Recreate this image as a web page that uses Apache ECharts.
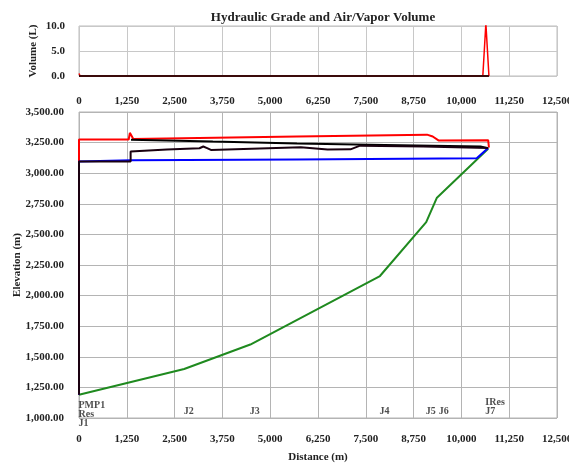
<!DOCTYPE html>
<html>
<head>
<meta charset="utf-8">
<script src="https://cdn.jsdelivr.net/npm/echarts@6/dist/echarts.min.js"></script>
<style>html,body{margin:0;padding:0;background:#fff}#c{width:569px;height:466px}</style>
</head>
<body>
<div id="c"></div>
<script>
// ---- data ----
const distTickStep = 1250, distMin = 0, distMax = 12500;
const volTickStep = 5, volMin = 0, volMax = 10;
const elevTickStep = 250, elevMin = 1000, elevMax = 3500;

// Air/Vapor volume (L)
const volRedDist = [0, 30, 10560, 10640, 10720];
const volRedVal  = [0.5, 0, 0, 10.5, 0];
const volBlackDist = [0, 10720];
const volBlackVal  = [0, 0];

// Max HGL (red)
const maxHglDist = [0, 0, 1300, 1330, 1420, 5700, 9100, 9250, 9400, 10700, 10720];
const maxHglElev = [1190, 3275, 3275, 3330, 3280, 3300, 3315, 3300, 3268, 3270, 3210];
// Min HGL (blue)
const minHglDist = [0, 0, 1350, 5700, 10400, 10700];
const minHglElev = [1190, 3095, 3105, 3112, 3122, 3205];
// HGL (black, upper)
const hglUpperDist = [1360, 3500, 5700, 8000, 10500, 10700];
const hglUpperElev = [3274, 3258, 3242, 3230, 3218, 3205];
// HGL (black, lower)
const hglLowerDist = [0, 0, 1350, 1350, 2300, 3150, 3250, 3350, 3450, 5800, 6500, 7100, 7350, 9000, 10700];
const hglLowerElev = [1190, 3095, 3095, 3177, 3193, 3204, 3218, 3205, 3190, 3212, 3193, 3195, 3225, 3218, 3205];
// Ground elevation (green)
const groundDist = [0, 2750, 4480, 7870, 9080, 9360, 10700];
const groundElev = [1190, 1400, 1600, 2160, 2600, 2800, 3200];
// Node labels
const nodeNames = ['PMP1\nRes\nJ1', 'J2', 'J3', 'J4', 'J5', 'J6', 'IRes\nJ7'];
const nodeDist  = [0, 2750, 4480, 7870, 9080, 9420, 10640];

// ---- helpers ----
function fmtNum(v, dec) {
  const s = Number(v).toFixed(dec);
  const parts = s.split('.');
  const ip = parts[0].replace(/\B(?=(\d{3})+(?!\d))/g, ',');
  return parts.length > 1 ? ip + '.' + parts[1] : ip;
}
function zip(a, b) { return a.map((x, i) => [x, b[i]]); }

const FONT = 'Liberation Serif';
const txt = { fontFamily: FONT, fontWeight: 'bold', fontSize: 11, color: '#222' };
const NODE_LABEL_ELEV = 1012;

const chart = echarts.init(document.getElementById('c'), null, { renderer: 'canvas' });

const xBase = (gi, margin, extra) => Object.assign({
  type: 'value', gridIndex: gi, min: distMin, max: distMax, interval: distTickStep,
  axisLine: { show: false }, axisTick: { show: false },
  axisLabel: Object.assign({}, txt, { margin: margin, formatter: v => fmtNum(v, 0) }),
  splitLine: { show: true, lineStyle: { color: gi === 0 ? '#c8c8c8' : '#b4b4b4', width: 1 } }
}, extra || {});

chart.setOption({
  animation: false,
  backgroundColor: '#fff',
  title: {
    text: 'Hydraulic Grade and Air/Vapor Volume',
    left: 318, top: 6, textAlign: 'center',
    textStyle: { fontFamily: FONT, fontWeight: 'bold', fontSize: 13, color: '#222' }
  },
  grid: [
    { left: 79, right: 12, top: 26, height: 50, show: true, borderColor: '#bdbdbd', borderWidth: 1,
      containLabel: false, outerBoundsMode: 'none' },
    { left: 79, right: 12, top: 112, height: 306, show: true, borderColor: '#b4b4b4', borderWidth: 1,
      containLabel: false, outerBoundsMode: 'none' }
  ],
  xAxis: [
    xBase(0, 20),
    xBase(1, 16, {
      name: 'Distance (m)', nameLocation: 'middle', nameGap: 34, nameMoveOverlap: false,
      nameTextStyle: Object.assign({}, txt)
    })
  ],
  yAxis: [
    {
      type: 'value', gridIndex: 0, min: volMin, max: volMax, interval: volTickStep,
      axisLine: { show: false }, axisTick: { show: false },
      axisLabel: Object.assign({}, txt, { margin: 14, formatter: v => fmtNum(v, 1) }),
      splitLine: { show: true, lineStyle: { color: '#c8c8c8' } },
      name: 'Volume (L)', nameLocation: 'middle', nameGap: 40, nameMoveOverlap: false,
      nameTextStyle: Object.assign({}, txt)
    },
    {
      type: 'value', gridIndex: 1, min: elevMin, max: elevMax, interval: elevTickStep,
      axisLine: { show: false }, axisTick: { show: false },
      axisLabel: Object.assign({}, txt, { margin: 15, formatter: v => fmtNum(v, 2) }),
      splitLine: { show: true, lineStyle: { color: '#b4b4b4' } },
      name: 'Elevation (m)', nameLocation: 'middle', nameGap: 56, nameMoveOverlap: false,
      nameTextStyle: Object.assign({}, txt)
    }
  ],
  series: [
    { type: 'line', xAxisIndex: 0, yAxisIndex: 0, data: zip(volRedDist, volRedVal), showSymbol: false, symbol: 'none',
      lineStyle: { color: '#ff0000', width: 1.5 }, z: 2 },
    { type: 'line', xAxisIndex: 0, yAxisIndex: 0, data: zip(volBlackDist, volBlackVal), showSymbol: false, symbol: 'none',
      lineStyle: { color: '#3a0a0a', width: 2 }, z: 3 },
    { type: 'line', xAxisIndex: 1, yAxisIndex: 1, data: zip(groundDist, groundElev), showSymbol: false, symbol: 'none',
      lineStyle: { color: '#1f8a1f', width: 2 }, z: 2 },
    { type: 'line', xAxisIndex: 1, yAxisIndex: 1, data: zip(maxHglDist, maxHglElev), showSymbol: false, symbol: 'none',
      lineStyle: { color: '#ff0000', width: 2 }, z: 3 },
    { type: 'line', xAxisIndex: 1, yAxisIndex: 1, data: zip(minHglDist, minHglElev), showSymbol: false, symbol: 'none',
      lineStyle: { color: '#0000ff', width: 2 }, z: 4 },
    { type: 'line', xAxisIndex: 1, yAxisIndex: 1, data: zip(hglUpperDist, hglUpperElev), showSymbol: false, symbol: 'none',
      lineStyle: { color: '#000000', width: 2 }, z: 5 },
    { type: 'line', xAxisIndex: 1, yAxisIndex: 1, data: zip(hglLowerDist, hglLowerElev), showSymbol: false, symbol: 'none',
      lineStyle: { color: '#1a0010', width: 2 }, z: 5 },
    { type: 'scatter', xAxisIndex: 1, yAxisIndex: 1, symbolSize: 1, clip: false, silent: true,
      itemStyle: { color: 'rgba(0,0,0,0)' },
      data: nodeNames.map((n, i) => ({
        value: [nodeDist[i], NODE_LABEL_ELEV], name: n,
        label: i === 0 ? { offset: [0, 12] } : undefined
      })),
      label: {
        show: true, position: [0, 0], align: 'left', verticalAlign: 'bottom',
        formatter: p => p.name,
        fontFamily: FONT, fontWeight: 'bold', fontSize: 10, lineHeight: 9, color: '#222'
      }, z: 6 }
  ]
});
</script>
</body>
</html>
